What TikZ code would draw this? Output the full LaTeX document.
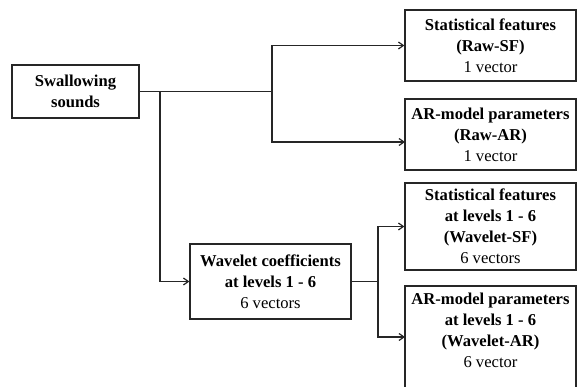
\documentclass[tikz,border=0pt]{standalone}
\usepackage{fontspec}
\setmainfont{Liberation Serif}
\usetikzlibrary{arrows.meta}
\begin{document}
\begin{tikzpicture}[x=1pt,y=-1pt,
  ln/.style={draw=black!85,line width=1.2pt},
  arr/.style={ln,-{Straight Barb[length=5pt,width=7pt,line width=1.2pt]}},
  box/.style={ln,rectangle,inner sep=0pt,align=center,
    font=\fontsize{16.6}{21}\selectfont},
  txt/.style={inner sep=0pt,align=center,font=\fontsize{16.6}{21}\selectfont}]
\useasboundingbox (0,0) rectangle (577,387);
\clip (0,0) rectangle (577,387);
% nodes
\node[box,minimum width=127pt,minimum height=53pt] (sw) at (75.5,91.5)
  {\textbf{Swallowing}\\\textbf{sounds}};
\node[box,minimum width=171pt,minimum height=71pt] (rsf) at (490.5,45.5)
  {\textbf{Statistical features}\\\textbf{(Raw-SF)}\\1 vector};
\node[box,minimum width=171pt,minimum height=71pt] (rar) at (490.5,134.5)
  {\textbf{AR-model parameters}\\\textbf{(Raw-AR)}\\1 vector};
\node[box,minimum width=161pt,minimum height=75pt] (wav) at (270.5,281.5)
  {\textbf{Wavelet coefficients}\\\textbf{at levels 1 - 6}\\6 vectors};
\node[box,minimum width=171pt,minimum height=87pt] (wsf) at (490.5,226.5)
  {\textbf{Statistical features}\\\textbf{at levels 1 - 6}\\\textbf{(Wavelet-SF)}\\6 vectors};
\node[box,minimum width=171pt,minimum height=104pt] (war) at (490.5,338) {};
\node[txt] (wart) at (490.5,330)
  {\textbf{AR-model parameters}\\\textbf{at levels 1 - 6}\\\textbf{(Wavelet-AR)}\\6 vector};
% junctions
\coordinate (jA) at (272,91.5);
\coordinate (jB) at (160,91.5);
\coordinate (rarin) at (405,142);
\coordinate (jC) at (378,281.5);
\coordinate (warin) at (405,337);
% connectors
\draw[ln] (sw.east) -- (jA);
\draw[arr] (jA) |- (rsf.west);
\draw[arr] (jA) |- (rarin);
\draw[arr] (jB) |- (wav.west);
\draw[ln] (wav.east) -- (jC);
\draw[arr] (jC) |- (wsf.west);
\draw[arr] (jC) |- (warin);
\end{tikzpicture}
\end{document}
